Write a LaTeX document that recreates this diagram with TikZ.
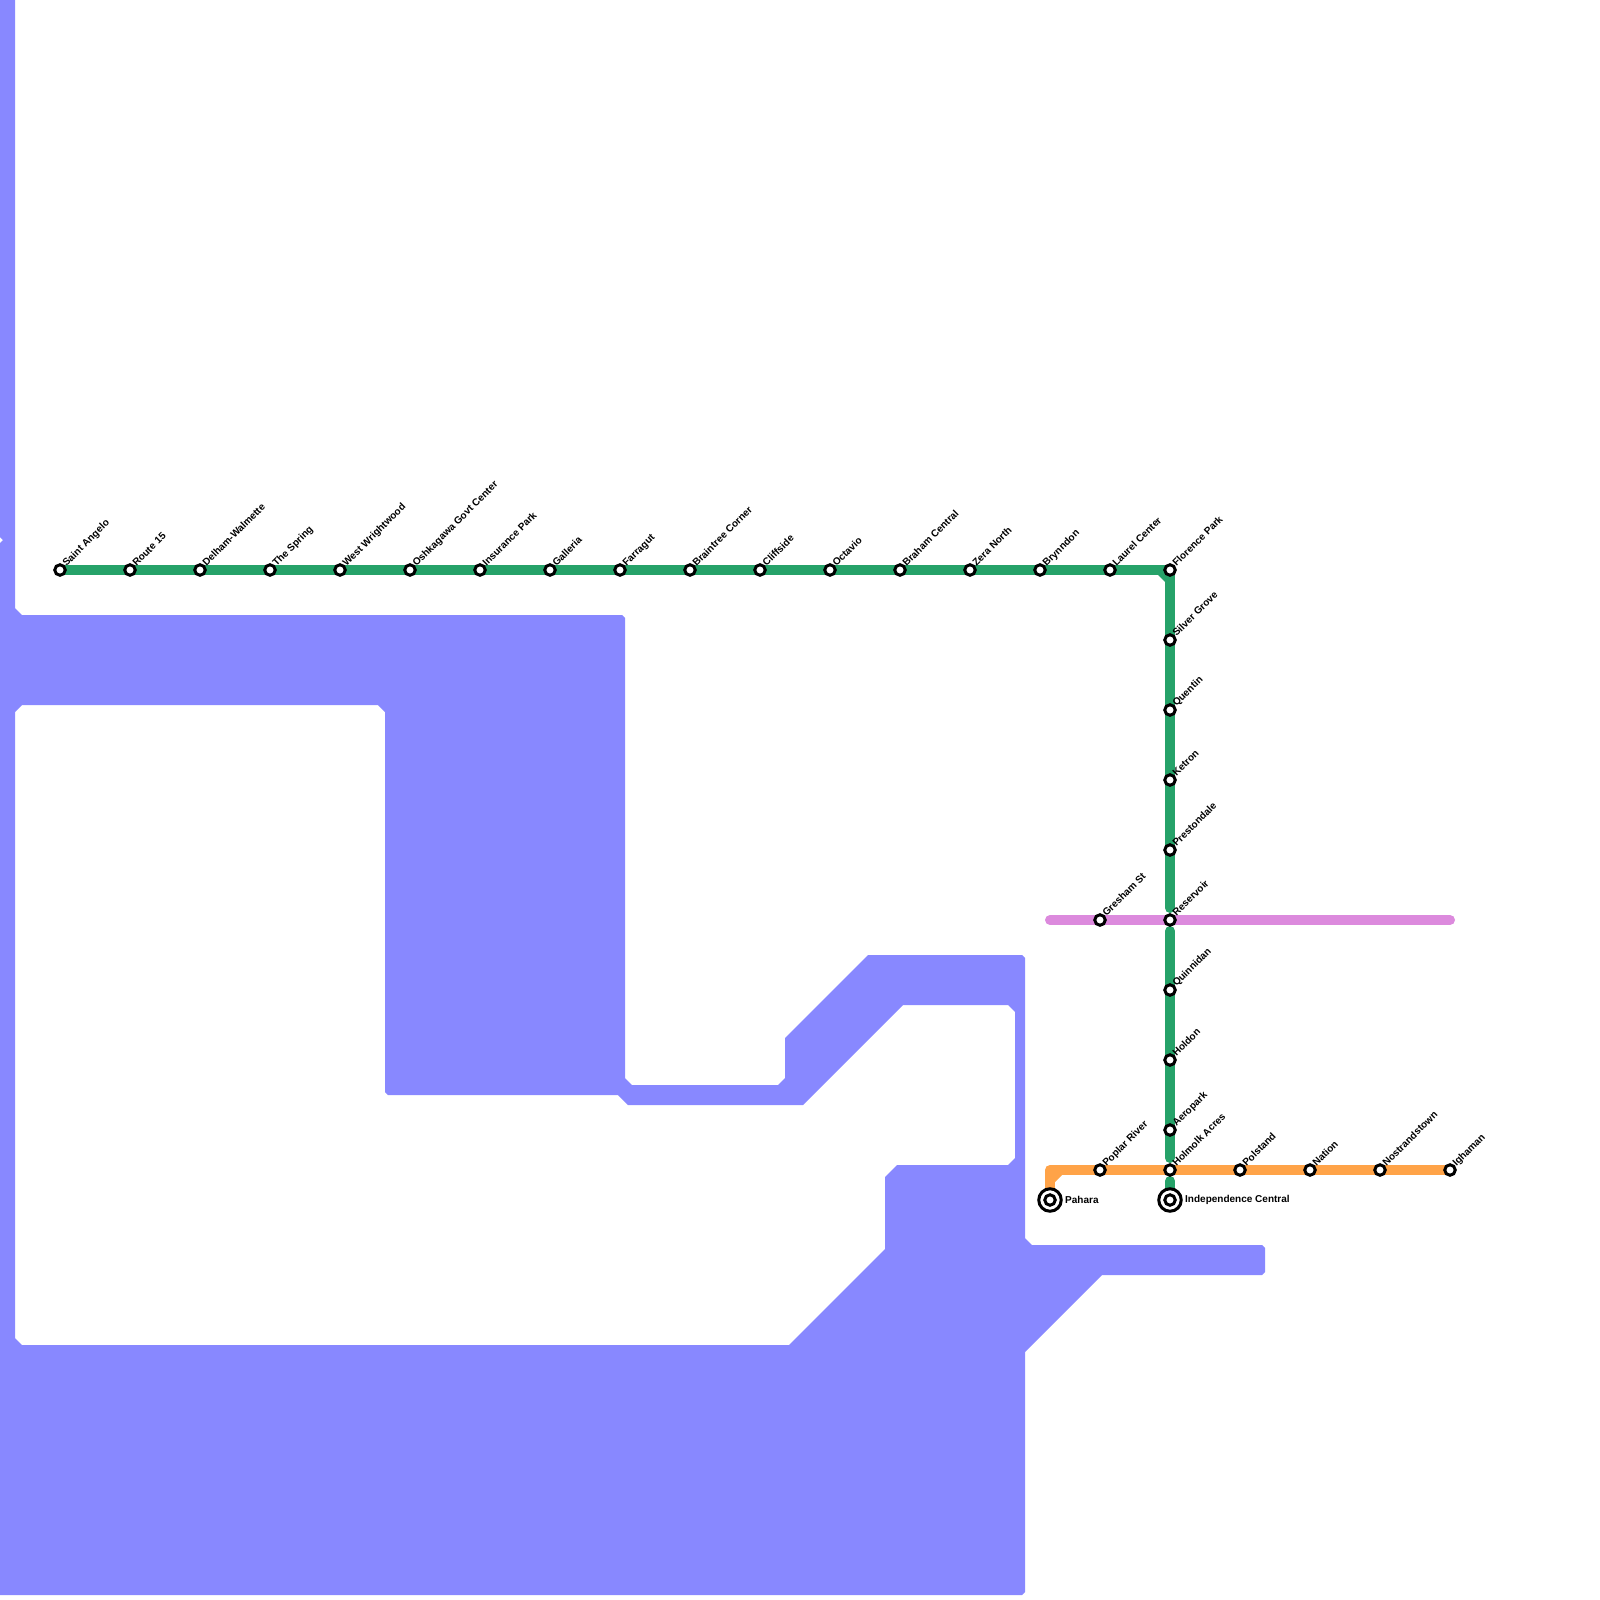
\documentclass[tikz,border=0pt]{standalone}
\usepackage{fontspec}
\usepackage{xcolor}
\setmainfont{Liberation Sans}
\usetikzlibrary{backgrounds}
\definecolor{waterblue}{HTML}{8888FF}
\definecolor{linegreen}{HTML}{26A269}
\definecolor{lineorange}{HTML}{FFA348}
\definecolor{linepink}{HTML}{DC8ADD}

\begin{document}
\begin{tikzpicture}[x=1pt,y=-1pt,font=\fontsize{10}{12}\selectfont\bfseries,
    stn/.style={circle,draw=black,line width=3pt,fill=white,inner sep=0pt,minimum size=10.5pt},
    termring/.style={circle,draw=black,line width=3pt,fill=white,inner sep=0pt,minimum size=22.5pt},
    stnlabel/.style={rotate=45,anchor=base west,inner sep=0pt},
    termlabel/.style={anchor=west,inner sep=0pt},
    metro/.style={line width=10pt,line cap=round,line join=round}]
  \useasboundingbox (0,0) rectangle (1600,1600);

  % stations
  \foreach \nm/\x/\y/\txt in {saintangelo/60/570/Saint Angelo, routefifteen/130/570/Route 15,
      delham/200/570/Delham-Walmette, thespring/270/570/The Spring, westwrightwood/340/570/West Wrightwood,
      oshkagawa/410/570/Oshkagawa Govt Center, insurancepark/480/570/Insurance Park, galleria/550/570/Galleria,
      farragut/620/570/Farragut, braintree/690/570/Braintree Corner, cliffside/760/570/Cliffside,
      octavio/830/570/Octavio, braham/900/570/Braham Central, zeranorth/970/570/Zera North,
      brynndon/1040/570/Brynndon, laurelcenter/1110/570/Laurel Center, florencepark/1170/570/Florence Park,
      silvergrove/1170/640/Silver Grove, quentin/1170/710/Quentin, ketron/1170/780/Ketron,
      prestondale/1170/850/Prestondale, reservoir/1170/920/Reservoir, quinnidan/1170/990/Quinnidan,
      holdon/1170/1060/Holdon, aeropark/1170/1130/Aeropark, holmolk/1170/1170/Holmolk Acres,
      gresham/1100/920/Gresham St, poplarriver/1100/1170/Poplar River, polstand/1240/1170/Polstand,
      nation/1310/1170/Nation, nostrandstown/1380/1170/Nostrandstown, ighaman/1450/1170/Ighaman} {
    \node[stn] (\nm) at (\x,\y) {};
    \node[stnlabel] (\nm label) at (\x+6.5,\y-3) {\txt};
  }

  % terminals
  \node[termring] (pahararing) at (1050,1200) {};
  \node[stn] (pahara) at (1050,1200) {};
  \node[termlabel] (paharalabel) at (1065,1199.5) {Pahara};
  \node[termring] (independencering) at (1170,1200) {};
  \node[stn] (independence) at (1170,1200) {};
  \node[termlabel] (independencelabel) at (1185,1199.5) {Independence Central};

  \coordinate (pinkstart) at (1050,920);
  \coordinate (pinkend) at (1450,920);

  \begin{pgfonlayer}{background}
    % water
    \fill[waterblue,even odd rule]
      (0,0) -- (15,0) -- (15,608) -- (22,615) -- (622,615) -- (625,618) -- (625,1078) -- (632,1085)
      -- (778,1085) -- (785,1078) -- (785,1038) -- (868,955) -- (1022,955) -- (1025,958)
      -- (1025,1238) -- (1032,1245) -- (1262,1245) -- (1265,1248) -- (1265,1272) -- (1262,1275)
      -- (1102,1275) -- (1025,1352) -- (1025,1592) -- (1022,1595) -- (0,1595) -- (0,543) -- (3,540) -- (0,537) -- cycle
      (15,712) -- (22,705) -- (378,705) -- (385,712) -- (385,1092) -- (388,1095) -- (618,1095)
      -- (628,1105) -- (803,1105) -- (903,1005) -- (1008,1005) -- (1015,1012) -- (1015,1158)
      -- (1008,1165) -- (897,1165) -- (885,1177) -- (885,1249) -- (789,1345) -- (22,1345) -- (15,1338) -- cycle;

    % lines
    \draw[metro,linegreen] (saintangelo.center) -- (florencepark.center) -- ([yshift=12pt]reservoir.center);
    \fill[linegreen] (1158,575) -- (1165,575) -- (1165,582) -- cycle;
    \draw[metro,linegreen] ([yshift=-11pt]reservoir.center) -- ([yshift=12pt]holmolk.center);
    \draw[metro,linegreen] ([yshift=-11pt]holmolk.center) -- (independence.center);
    \draw[metro,linepink] (pinkstart) -- (pinkend);
    \draw[metro,lineorange] (pahara.center) -- (1050,1170) -- (ighaman.center);
    \fill[lineorange] (1055,1175) -- (1062,1175) -- (1055,1182) -- cycle;
  \end{pgfonlayer}
\end{tikzpicture}
\end{document}
